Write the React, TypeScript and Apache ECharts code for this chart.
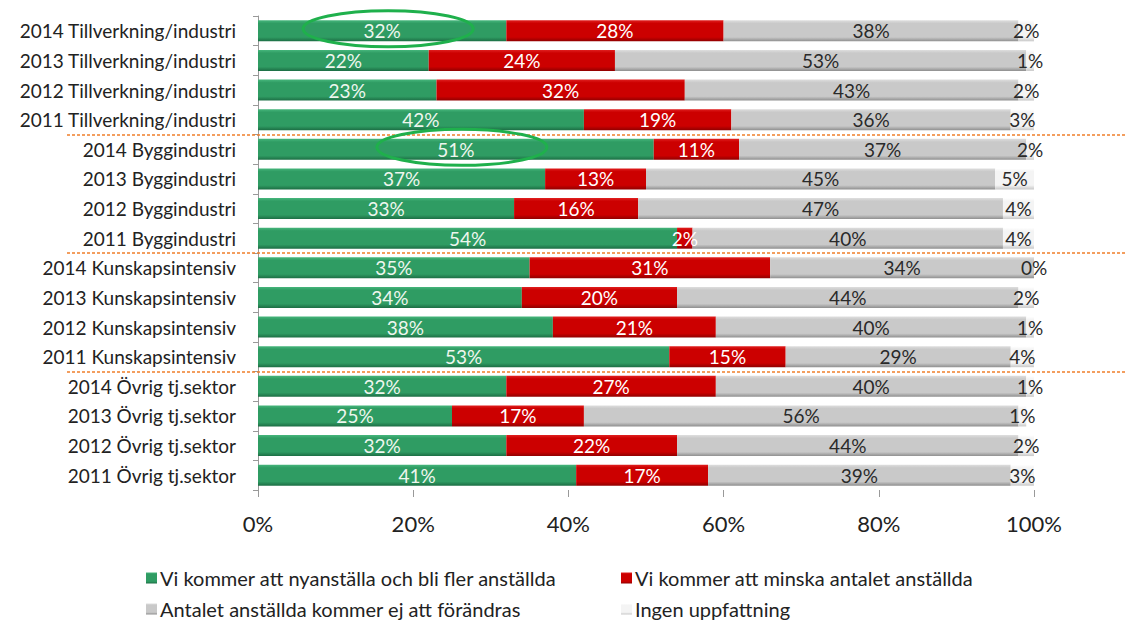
import React, { useEffect, useRef } from "react";
import * as echarts from "echarts";

const categories = [
  "2014 Tillverkning/industri",
  "2013 Tillverkning/industri",
  "2012 Tillverkning/industri",
  "2011 Tillverkning/industri",
  "2014 Byggindustri",
  "2013 Byggindustri",
  "2012 Byggindustri",
  "2011 Byggindustri",
  "2014 Kunskapsintensiv",
  "2013 Kunskapsintensiv",
  "2012 Kunskapsintensiv",
  "2011 Kunskapsintensiv",
  "2014 Övrig tj.sektor",
  "2013 Övrig tj.sektor",
  "2012 Övrig tj.sektor",
  "2011 Övrig tj.sektor",
];

const seriesNames = [
  "Vi kommer att nyanställa och bli fler anställda",
  "Vi kommer att minska antalet anställda",
  "Antalet anställda kommer ej att förändras",
  "Ingen uppfattning",
];

const okar = [32, 22, 23, 42, 51, 37, 33, 54, 35, 34, 38, 53, 32, 25, 32, 41];
const minskar = [28, 24, 32, 19, 11, 13, 16, 2, 31, 20, 21, 15, 27, 17, 22, 17];
const oforandrat = [38, 53, 43, 36, 37, 45, 47, 40, 34, 44, 40, 29, 40, 56, 44, 39];
const ingen = [2, 1, 2, 3, 2, 5, 4, 4, 0, 2, 1, 4, 1, 1, 2, 3];

const xTicks = [0, 20, 40, 60, 80, 100];
const groupBoundaries = [3, 7, 11]; // separator after these category indices
const highlighted = [0, 4]; // rows with highlighted green value

const FONT = "Lato, 'Open Sans', sans-serif";

function grad(top: string, mid: string, bottom: string) {
  return new echarts.graphic.LinearGradient(0, 0, 0, 1, [
    { offset: 0, color: top },
    { offset: 0.15, color: mid },
    { offset: 0.8, color: mid },
    { offset: 1, color: bottom },
  ]);
}

const colors = [
  grad("#46b67c", "#2f9c63", "#1c6e44"),
  grad("#e02020", "#cc0000", "#900000"),
  grad("#dedede", "#c9c9c9", "#8f8f8f"),
  grad("#ffffff", "#f4f4f4", "#c8c8c8"),
];
const legendColors = ["#2f9c63", "#cc0000", "#b0b0b0", "#e0e0e0"];
const labelColors = ["#eef6ee", "#ffffff", "#2a2a2a", "#2a2a2a"];

export default function App() {
  const ref = useRef<HTMLDivElement>(null);
  useEffect(() => {
    if (!ref.current) return;
    const chart = echarts.init(ref.current, undefined, { renderer: "svg" });
    const data = [okar, minskar, oforandrat, ingen];
    const option: any = {
      animation: false,
      grid: { left: 258, right: 91, top: 16, bottom: 131, containLabel: false },
      xAxis: {
        type: "value",
        min: 0,
        max: 100,
        interval: 20,
        axisLine: { show: false },
        splitLine: { show: false },
        axisTick: { show: true, length: 7, lineStyle: { color: "#999" } },
        axisLabel: {
          formatter: (v: number) => (xTicks.includes(v) ? v + "%" : ""),
          fontFamily: FONT,
          fontSize: 22,
          color: "#222",
          margin: 22,
        },
      },
      yAxis: {
        type: "category",
        inverse: true,
        data: categories,
        axisLine: { show: true, lineStyle: { color: "#999" } },
        axisTick: { show: true, length: 5, lineStyle: { color: "#999" } },
        axisLabel: {
          fontFamily: FONT,
          fontSize: 19,
          color: "#222",
          margin: 22,
        },
      },
      legend: seriesNames.map((n, i) => ({
        data: [n],
        left: i % 2 === 0 ? 146 : 621,
        top: i < 2 ? 568 : 599,
        padding: 0,
        itemWidth: 11,
        itemHeight: 11,
        itemGap: 4,
        icon: "rect",
        textStyle: { fontFamily: FONT, fontSize: 20, color: "#222", padding: [0, 0, 0, -2] },
      })),
      series: seriesNames.map((n, i) => ({
        name: n,
        type: "bar",
        stack: "total",
        barWidth: 21,
        data: data[i],
        itemStyle: { color: colors[i] },
        color: legendColors[i],
        label: {
          show: true,
          position: "inside",
          formatter: (p: any) => p.value + "%",
          fontFamily: FONT,
          fontSize: 19,
          color: labelColors[i],
        },
      })),
    };
    chart.setOption(option);

    const graphics: any[] = [];
    groupBoundaries.forEach((idx) => {
      const a = chart.convertToPixel({ yAxisIndex: 0 }, categories[idx]) as number;
      const b = chart.convertToPixel({ yAxisIndex: 0 }, categories[idx + 1]) as number;
      const y = Math.round((a + b) / 2);
      graphics.push({
        type: "line",
        shape: { x1: 67, y1: y, x2: 1125, y2: y },
        style: { stroke: "#f07f2a", lineWidth: 1.5, lineDash: [3, 2] },
        z: 10,
      });
    });
    highlighted.forEach((idx) => {
      const cy = chart.convertToPixel({ yAxisIndex: 0 }, categories[idx]) as number;
      const cx = chart.convertToPixel({ xAxisIndex: 0 }, okar[idx] / 2) as number;
      graphics.push({
        type: "ellipse",
        shape: { cx: cx + 6, cy: cy - 2, rx: 85, ry: 18 },
        style: { fill: "none", stroke: "#1fb04c", lineWidth: 3 },
        z: 10,
      });
    });
    chart.setOption({ graphic: graphics });

    return () => chart.dispose();
  }, []);
  return <div ref={ref} style={{ width: 1125, height: 621, position: "absolute", left: 0, top: 0 }} />;
}
